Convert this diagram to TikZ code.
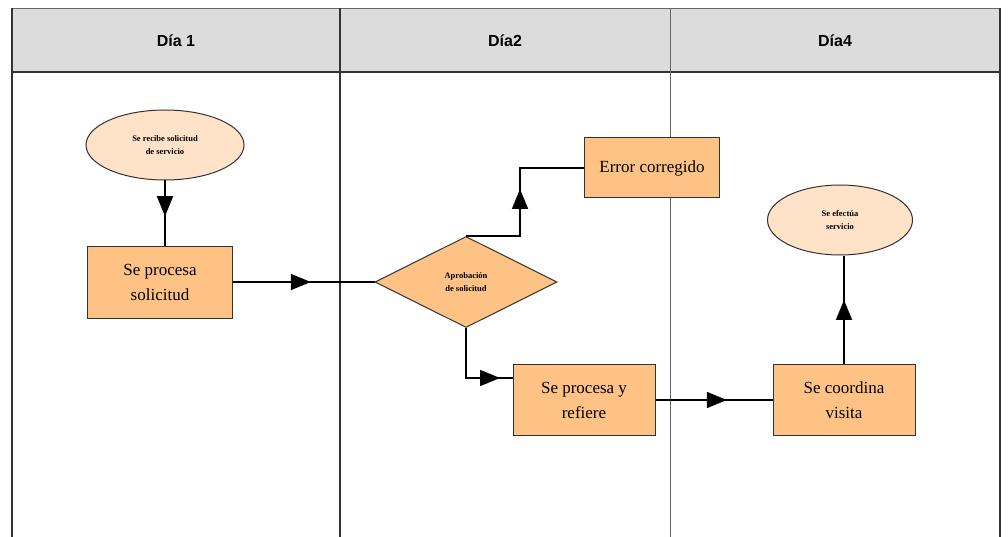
\documentclass[tikz,border=0pt]{standalone}
\usepackage{fontspec}
\setmainfont{Liberation Serif}
\setsansfont{Liberation Sans}
\usetikzlibrary{arrows.meta,decorations.markings,shapes.geometric}
\definecolor{boxfill}{HTML}{FFC285}
\definecolor{ellfill}{HTML}{FFE2C8}
\definecolor{headfill}{HTML}{DCDCDC}
\tikzset{
  x=1pt,y=-1pt,
  lane/.style={line width=1.2pt,black!80},
  procbox/.style={draw=black!80,line width=1pt,fill=boxfill,rectangle,minimum width=145pt,minimum height=72pt,inner sep=2pt,align=center,font=\rmfamily\fontsize{17}{25}\selectfont},
  ellnode/.style={draw=black!80,line width=1pt,fill=ellfill,ellipse,align=center,font=\rmfamily\bfseries\fontsize{8.5}{13}\selectfont},
  decnode/.style={draw=black!80,line width=1pt,fill=boxfill,diamond,aspect=2,minimum width=182pt,minimum height=91pt,inner sep=0pt,align=center,font=\rmfamily\bfseries\fontsize{8.5}{13}\selectfont},
  conn/.style={line width=1.6pt,black},
  markat/.style={postaction={decorate},decoration={markings,mark=at position #1 with {\arrow{Triangle[length=20pt,width=16pt]}}}},
  headtext/.style={font=\sffamily\bfseries\fontsize{16}{18}\selectfont}
}
\begin{document}
\begin{tikzpicture}
\useasboundingbox (0,0) rectangle (1008,537);
\fill[white] (0,0) rectangle (1008,537);
% header
\fill[headfill] (12,8) rectangle (1000,72);
\draw[line width=0.6pt,black!60] (12,8) -- (1000,8);
\draw[line width=2.5pt,black!80] (12,72) -- (1000,72);
\draw[lane] (12,8) -- (12,537);
\draw[lane] (340,8) -- (340,537);
\draw[line width=0.8pt,black!60] (670,8) -- (670,537);
\draw[lane] (1000,8) -- (1000,537);
\node[headtext] (h1) at (176,41) {Día 1};
\node[headtext] (h2) at (505,41) {Día2};
\node[headtext] (h3) at (835,41) {Día4};
% nodes
\node[ellnode,minimum width=158pt,minimum height=70pt,inner sep=0pt] (e1) at (165,145) {Se recibe solicitud\\de servicio};
\node[procbox] (b1) at (160,282) {Se procesa\\solicitud};
\node[decnode] (dia) at (466,282) {Aprobación\\de solicitud};
\node[procbox,minimum width=135pt,minimum height=60pt] (err) at (652,168) {Error corregido};
\node[procbox,minimum width=142pt,minimum height=71pt] (sp) at (584,400) {Se procesa y\\refiere};
\node[procbox,minimum width=142pt,minimum height=71pt] (cv) at (844,400) {Se coordina\\visita};
\node[ellnode,minimum width=145pt,minimum height=70pt,inner sep=0pt] (e2) at (840,220) {Se efectúa\\servicio};
% connectors
\draw[conn,markat=0.55] (e1.south) -- (e1.south |- b1.north);
\draw[conn,markat=0.55] (b1.east) -- (dia.west);
\coordinate (k2) at (520,168);
\draw[conn,markat=101pt] (dia.north) -| (k2) -- (err.west);
\coordinate (k3) at (513,378);
\draw[conn,markat=84pt] (dia.south) |- (k3);
\draw[conn,markat=0.61] (sp.east) -- (cv.west);
\draw[conn,markat=0.59] (cv.north) -- (cv.north |- e2.south);
\end{tikzpicture}
\end{document}
